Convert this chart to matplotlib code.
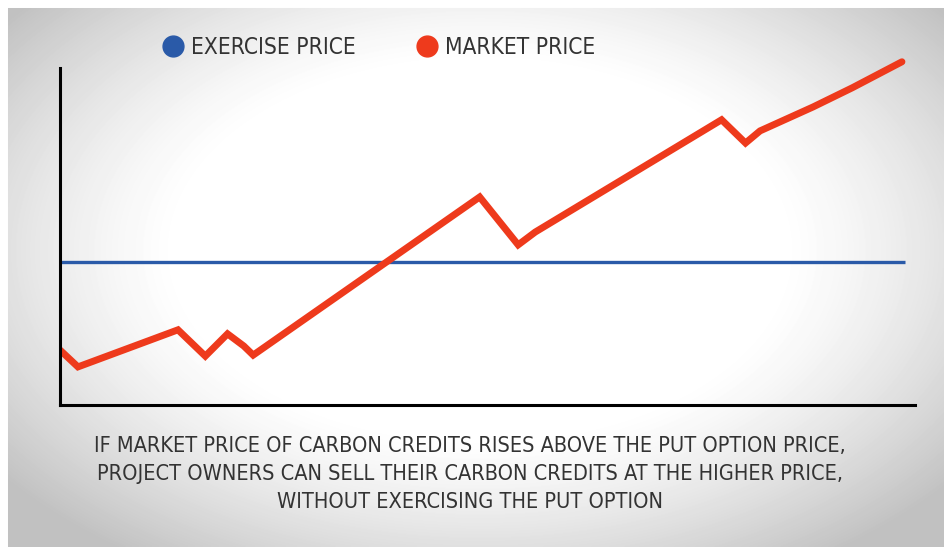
import numpy as np
import matplotlib.pyplot as plt
from matplotlib.lines import Line2D

# market price path (x = time, y = price)
market_x = [0, 2.1, 13.8, 17.0, 19.6, 21.5, 22.6, 49.1, 53.6, 55.6, 77.4, 80.2, 81.9, 88.1, 92.7, 98.5]
market_y = [16.3, 11.3, 22.3, 14.5, 21.1, 17.5, 14.8, 61.7, 47.5, 51.3, 84.6, 77.7, 81.3, 88.4, 94.1, 101.8]

# exercise (put option) price stays flat
exercise_x = [0, 98.8]
exercise_y = [42.4, 42.4]

legend_labels = ['EXERCISE PRICE', 'MARKET PRICE']
caption = ('IF MARKET PRICE OF CARBON CREDITS RISES ABOVE THE PUT OPTION PRICE,\n'
           'PROJECT OWNERS CAN SELL THEIR CARBON CREDITS AT THE HIGHER PRICE,\n'
           'WITHOUT EXERCISING THE PUT OPTION')

blue = '#2a5aa8'
red = '#ee3a1c'

W, H = 945, 547
fig = plt.figure(figsize=(W / 100, H / 100), dpi=100)

# soft vignette background
bg = fig.add_axes([0, 0, 1, 1])
yy, xx = np.mgrid[0:H, 0:W]
r = np.sqrt(((xx - 480) / 500.0) ** 2 + ((yy - 250) / 310.0) ** 2)
shade = 1 - 0.24 * np.clip((r - 0.6) / 0.6, 0, 1) ** 1.3
shade[:8, :] = 1.0
shade[:, :8] = 1.0
bg.imshow(shade, cmap='gray', vmin=0, vmax=1, aspect='auto', interpolation='bilinear')
bg.axis('off')

ax = fig.add_axes([0.0635, 0.2596, 0.9045, 0.678])
ax.patch.set_alpha(0)
ax.plot(exercise_x, exercise_y, color=blue, lw=2.4, solid_capstyle='butt')
ax.plot(market_x, market_y, color=red, lw=5, solid_joinstyle='miter',
        solid_capstyle='round')
ax.set_xlim(0, 100)
ax.set_ylim(0, 110)
for s in ['top', 'right']:
    ax.spines[s].set_visible(False)
ax.spines['left'].set_bounds(0, 100)
ax.spines['left'].set_linewidth(2.2)
ax.spines['bottom'].set_linewidth(2.2)
ax.set_xticks([])
ax.set_yticks([])

handles = [Line2D([], [], ls='', marker='o', ms=15, color=blue),
           Line2D([], [], ls='', marker='o', ms=15, color=red)]
fig.legend(handles, legend_labels, loc='center left', bbox_to_anchor=(0.171, 0.913),
           ncol=2, frameon=False, handlelength=1.0, handletextpad=0.3,
           columnspacing=2.65, borderpad=0, borderaxespad=0,
           prop={'family': 'DejaVu Sans', 'stretch': 'condensed', 'size': 16.3},
           labelcolor='#333333')

fig.text(0.497, 0.1335, caption, ha='center', va='center', family='DejaVu Sans',
         fontstretch='condensed', fontsize=15.6, color='#333333', linespacing=1.5)

fig.savefig('out.png', dpi=100)
